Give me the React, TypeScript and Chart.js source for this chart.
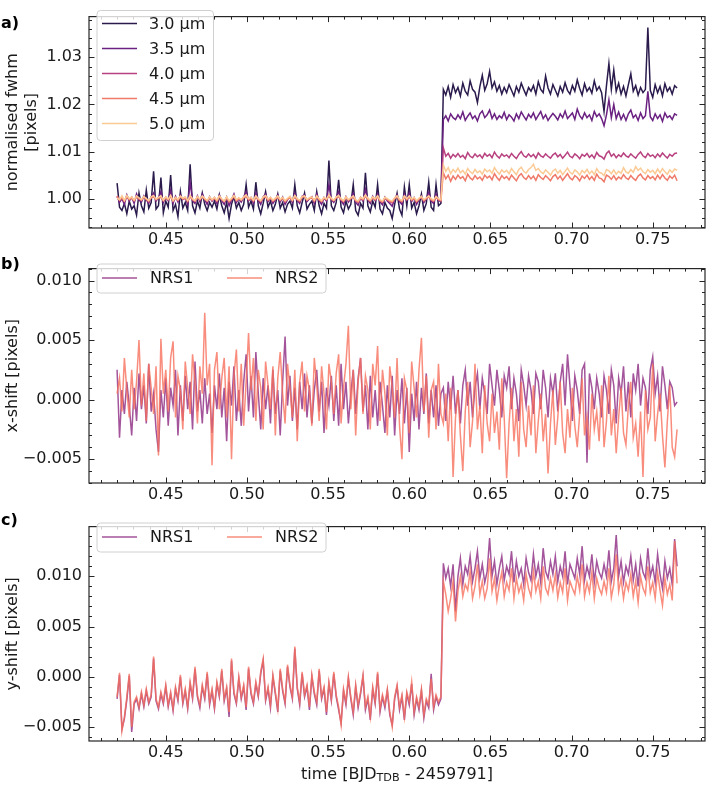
import React, { useEffect, useRef } from 'react';
import { Chart, registerables } from 'chart.js';
Chart.register(...registerables);

const FONT = "'DejaVu Sans', 'Noto Sans', sans-serif";
const FS = 16;

// time [BJD_TDB - 2459791]
const times = [
  0.4200, 0.4215, 0.4230, 0.4245, 0.4260, 0.4275, 0.4290, 0.4305, 0.4320, 0.4335,
  0.4350, 0.4365, 0.4380, 0.4395, 0.4410, 0.4425, 0.4440, 0.4455, 0.4470, 0.4485,
  0.4500, 0.4515, 0.4530, 0.4545, 0.4560, 0.4575, 0.4590, 0.4605, 0.4620, 0.4635,
  0.4650, 0.4665, 0.4680, 0.4695, 0.4710, 0.4725, 0.4740, 0.4755, 0.4770, 0.4785,
  0.4800, 0.4815, 0.4830, 0.4845, 0.4860, 0.4875, 0.4890, 0.4905, 0.4920, 0.4935,
  0.4950, 0.4965, 0.4980, 0.4995, 0.5010, 0.5025, 0.5040, 0.5055, 0.5070, 0.5085,
  0.5100, 0.5115, 0.5130, 0.5145, 0.5160, 0.5175, 0.5190, 0.5205, 0.5220, 0.5235,
  0.5250, 0.5265, 0.5280, 0.5295, 0.5310, 0.5325, 0.5340, 0.5355, 0.5370, 0.5385,
  0.5400, 0.5415, 0.5430, 0.5445, 0.5460, 0.5475, 0.5490, 0.5505, 0.5520, 0.5535,
  0.5550, 0.5565, 0.5580, 0.5595, 0.5610, 0.5625, 0.5640, 0.5655, 0.5670, 0.5685,
  0.5700, 0.5715, 0.5730, 0.5745, 0.5760, 0.5775, 0.5790, 0.5805, 0.5820, 0.5835,
  0.5850, 0.5865, 0.5880, 0.5895, 0.5910, 0.5925, 0.5940, 0.5955, 0.5970, 0.5985,
  0.6000, 0.6015, 0.6030, 0.6045, 0.6060, 0.6075, 0.6090, 0.6105, 0.6120, 0.6135,
  0.6150, 0.6165, 0.6180, 0.6195, 0.6210, 0.6225, 0.6240, 0.6255, 0.6270, 0.6285,
  0.6300, 0.6315, 0.6330, 0.6345, 0.6360, 0.6375, 0.6390, 0.6405, 0.6420, 0.6435,
  0.6450, 0.6465, 0.6480, 0.6495, 0.6510, 0.6525, 0.6540, 0.6555, 0.6570, 0.6585,
  0.6600, 0.6615, 0.6630, 0.6645, 0.6660, 0.6675, 0.6690, 0.6705, 0.6720, 0.6735,
  0.6750, 0.6765, 0.6780, 0.6795, 0.6810, 0.6825, 0.6840, 0.6855, 0.6870, 0.6885,
  0.6900, 0.6915, 0.6930, 0.6945, 0.6960, 0.6975, 0.6990, 0.7005, 0.7020, 0.7035,
  0.7050, 0.7065, 0.7080, 0.7095, 0.7110, 0.7125, 0.7140, 0.7155, 0.7170, 0.7185,
  0.7200, 0.7215, 0.7230, 0.7245, 0.7260, 0.7275, 0.7290, 0.7305, 0.7320, 0.7335,
  0.7350, 0.7365, 0.7380, 0.7395, 0.7410, 0.7425, 0.7440, 0.7455, 0.7470, 0.7485,
  0.7500, 0.7515, 0.7530, 0.7545, 0.7560, 0.7575, 0.7590, 0.7605, 0.7620, 0.7635,
  0.7650,
];

// panel a: normalised fwhm [pixels]
const fwhm30 = [
  1.0033, 0.9982, 0.9975, 0.9990, 0.9968, 0.9995, 0.9978, 0.9985, 0.9965, 1.0012,
  0.9985, 0.9972, 1.0018, 0.9980, 0.9992, 1.0058, 0.9978, 0.9985, 1.0045, 0.9970,
  0.9995, 0.9982, 1.0050, 0.9975, 0.9988, 0.9962, 1.0015, 0.9980, 0.9992, 0.9975,
  1.0073, 0.9985, 0.9970, 0.9995, 0.9980, 1.0012, 0.9988, 0.9975, 0.9992, 0.9982,
  0.9995, 0.9978, 1.0008, 0.9985, 0.9970, 0.9992, 0.9958, 0.9988, 1.0005, 0.9980,
  0.9992, 0.9975, 0.9988, 1.0030, 0.9982, 0.9995, 0.9978, 1.0035, 0.9985, 0.9968,
  0.9990, 1.0015, 0.9982, 0.9995, 0.9975, 0.9988, 1.0010, 0.9980, 0.9992, 0.9972,
  0.9988, 0.9995, 0.9980, 1.0030, 0.9985, 0.9970, 0.9992, 1.0012, 0.9978, 0.9988,
  0.9995, 0.9975, 1.0015, 0.9985, 0.9968, 0.9990, 0.9980, 1.0081, 0.9985, 0.9975,
  0.9992, 1.0040, 0.9982, 0.9970, 0.9995, 0.9978, 0.9988, 1.0030, 0.9975, 0.9965,
  0.9990, 0.9980, 1.0055, 0.9985, 0.9972, 0.9995, 0.9982, 1.0030, 0.9978, 0.9968,
  0.9992, 0.9980, 0.9975, 0.9958, 0.9988, 1.0012, 0.9978, 0.9965, 1.0025, 0.9985,
  1.0030, 0.9980, 0.9992, 0.9968, 0.9985, 1.0010, 0.9975, 0.9990, 1.0035, 0.9982,
  0.9975, 1.0030, 0.9985, 0.9990, 1.0232, 1.0220, 1.0238, 1.0215, 1.0242, 1.0225,
  1.0236, 1.0218, 1.0245, 1.0228, 1.0220, 1.0250, 1.0232, 1.0226, 1.0204, 1.0238,
  1.0262, 1.0230, 1.0244, 1.0270, 1.0235, 1.0248, 1.0228, 1.0240, 1.0222, 1.0236,
  1.0225, 1.0242, 1.0230, 1.0218, 1.0238, 1.0226, 1.0245, 1.0232, 1.0220, 1.0236,
  1.0228, 1.0240, 1.0222, 1.0248, 1.0232, 1.0225, 1.0260, 1.0235, 1.0222, 1.0242,
  1.0230, 1.0218, 1.0238, 1.0226, 1.0246, 1.0230, 1.0222, 1.0240, 1.0228, 1.0252,
  1.0234, 1.0220, 1.0244, 1.0228, 1.0236, 1.0224, 1.0250, 1.0230, 1.0238, 1.0225,
  1.0185, 1.0240, 1.0287, 1.0232, 1.0273, 1.0228, 1.0245, 1.0222, 1.0238, 1.0218,
  1.0242, 1.0265, 1.0228, 1.0240, 1.0220, 1.0236, 1.0225, 1.0232, 1.0363, 1.0230,
  1.0215, 1.0242, 1.0225, 1.0238, 1.0218, 1.0244, 1.0228, 1.0236, 1.0222, 1.0240,
  1.0235,
];
const fwhm35 = [
  1.0005, 0.9992, 1.0000, 0.9988, 1.0008, 0.9995, 1.0003, 0.9990, 1.0010, 0.9997,
  0.9993, 1.0006, 0.9998, 0.9990, 1.0004, 1.0012, 0.9995, 1.0002, 1.0015, 0.9992,
  1.0003, 0.9996, 1.0018, 0.9990, 1.0005, 0.9993, 1.0008, 0.9998, 1.0002, 0.9988,
  1.0035, 0.9996, 0.9990, 1.0006, 0.9994, 1.0010, 0.9998, 0.9988, 1.0004, 0.9995,
  1.0002, 0.9990, 1.0008, 0.9996, 0.9988, 1.0003, 0.9985, 0.9997, 1.0010, 0.9992,
  1.0000, 0.9993, 1.0004, 1.0015, 0.9996, 1.0002, 0.9990, 1.0012, 0.9997, 0.9988,
  1.0004, 1.0010, 0.9994, 1.0002, 0.9990, 0.9998, 1.0008, 0.9993, 1.0003, 0.9988,
  0.9998, 1.0004, 0.9992, 1.0012, 0.9997, 0.9990, 1.0005, 1.0008, 0.9994, 1.0000,
  1.0004, 0.9990, 1.0010, 0.9996, 0.9988, 1.0002, 0.9995, 1.0030, 0.9998, 0.9992,
  1.0003, 1.0015, 0.9996, 0.9988, 1.0004, 0.9993, 1.0000, 1.0012, 0.9992, 0.9986,
  1.0002, 0.9995, 1.0020, 0.9998, 0.9990, 1.0005, 0.9996, 1.0010, 0.9993, 0.9987,
  1.0003, 0.9995, 0.9990, 0.9984, 1.0000, 1.0008, 0.9994, 0.9988, 1.0010, 0.9997,
  1.0012, 0.9994, 1.0002, 0.9988, 0.9998, 1.0006, 0.9992, 1.0000, 1.0014, 0.9995,
  0.9990, 1.0010, 0.9996, 0.9994, 1.0168, 1.0176, 1.0165, 1.0180, 1.0172, 1.0168,
  1.0178, 1.0170, 1.0184, 1.0166, 1.0175, 1.0182, 1.0170, 1.0176, 1.0165, 1.0180,
  1.0186, 1.0172, 1.0178, 1.0188, 1.0170, 1.0180, 1.0168, 1.0176, 1.0171, 1.0183,
  1.0168, 1.0178, 1.0173, 1.0165, 1.0180, 1.0170, 1.0184, 1.0175, 1.0167, 1.0179,
  1.0172, 1.0182, 1.0168, 1.0177, 1.0185, 1.0170, 1.0178, 1.0166, 1.0174, 1.0181,
  1.0175, 1.0167, 1.0180, 1.0172, 1.0186, 1.0170, 1.0176, 1.0182, 1.0168, 1.0190,
  1.0176, 1.0169, 1.0182, 1.0172, 1.0178, 1.0166, 1.0185, 1.0174, 1.0180, 1.0170,
  1.0155, 1.0178, 1.0210, 1.0172, 1.0200, 1.0170, 1.0184, 1.0168, 1.0179, 1.0166,
  1.0180, 1.0188, 1.0172, 1.0178, 1.0166, 1.0182, 1.0170, 1.0176, 1.0228, 1.0174,
  1.0166, 1.0180, 1.0170, 1.0178, 1.0164, 1.0182, 1.0172, 1.0176, 1.0168, 1.0180,
  1.0177,
];
const fwhm40 = [
  1.0004, 0.9996, 1.0001, 0.9994, 1.0006, 0.9998, 1.0003, 0.9995, 1.0005, 0.9999,
  0.9996, 1.0004, 0.9998, 0.9993, 1.0003, 1.0006, 0.9997, 1.0002, 1.0005, 0.9995,
  1.0002, 0.9997, 1.0007, 0.9994, 1.0003, 0.9996, 1.0005, 0.9999, 1.0001, 0.9993,
  1.0006, 0.9998, 0.9994, 1.0004, 0.9997, 1.0005, 0.9999, 0.9994, 1.0003, 0.9996,
  1.0001, 0.9994, 1.0005, 0.9998, 0.9993, 1.0002, 0.9992, 0.9998, 1.0006, 0.9995,
  1.0000, 0.9996, 1.0003, 1.0007, 0.9997, 1.0001, 0.9994, 1.0005, 0.9998, 0.9993,
  1.0003, 1.0005, 0.9996, 1.0001, 0.9994, 0.9999, 1.0005, 0.9996, 1.0002, 0.9993,
  0.9999, 1.0003, 0.9995, 1.0006, 0.9998, 0.9994, 1.0004, 1.0005, 0.9996, 1.0000,
  1.0003, 0.9994, 1.0006, 0.9997, 0.9993, 1.0002, 0.9997, 1.0008, 0.9999, 0.9995,
  1.0002, 1.0006, 0.9997, 0.9993, 1.0003, 0.9996, 1.0000, 1.0005, 0.9995, 0.9992,
  1.0001, 0.9997, 1.0007, 0.9999, 0.9994, 1.0003, 0.9997, 1.0005, 0.9995, 0.9992,
  1.0002, 0.9997, 0.9994, 0.9991, 1.0000, 1.0005, 0.9996, 0.9993, 1.0005, 0.9998,
  1.0005, 0.9996, 1.0001, 0.9993, 0.9999, 1.0004, 0.9995, 1.0000, 1.0006, 0.9997,
  0.9994, 1.0004, 0.9998, 0.9996, 1.0108, 1.0090, 1.0096, 1.0086, 1.0094, 1.0089,
  1.0096, 1.0088, 1.0092, 1.0085, 1.0098, 1.0090, 1.0087, 1.0095, 1.0089, 1.0093,
  1.0086, 1.0096, 1.0090, 1.0094, 1.0087, 1.0099, 1.0091, 1.0086, 1.0095, 1.0090,
  1.0093, 1.0087, 1.0096, 1.0090, 1.0085, 1.0094, 1.0100, 1.0091, 1.0088, 1.0095,
  1.0089, 1.0094, 1.0086, 1.0097, 1.0091, 1.0088, 1.0095, 1.0090, 1.0086, 1.0093,
  1.0097, 1.0089, 1.0094, 1.0086, 1.0092, 1.0099, 1.0090, 1.0087, 1.0095, 1.0091,
  1.0085, 1.0094, 1.0090, 1.0096, 1.0088, 1.0093, 1.0086, 1.0098, 1.0091, 1.0089,
  1.0084, 1.0096, 1.0101, 1.0090, 1.0095, 1.0087, 1.0093, 1.0089, 1.0097, 1.0091,
  1.0088, 1.0095, 1.0090, 1.0086, 1.0094, 1.0099, 1.0091, 1.0087, 1.0096, 1.0090,
  1.0093, 1.0087, 1.0095, 1.0089, 1.0097, 1.0091, 1.0086, 1.0094, 1.0090, 1.0096,
  1.0097,
];
const fwhm45 = [
  1.0006, 0.9997, 1.0002, 0.9995, 1.0004, 0.9998, 1.0001, 0.9996, 1.0004, 1.0000,
  0.9997, 1.0003, 0.9999, 0.9995, 1.0002, 1.0004, 0.9998, 1.0001, 1.0003, 0.9996,
  1.0002, 0.9998, 1.0004, 0.9995, 1.0001, 0.9997, 1.0004, 0.9999, 1.0002, 0.9995,
  1.0004, 0.9998, 0.9995, 1.0003, 0.9998, 1.0004, 0.9999, 0.9995, 1.0002, 0.9997,
  1.0001, 0.9995, 1.0004, 0.9998, 0.9994, 1.0002, 0.9994, 0.9999, 1.0004, 0.9996,
  1.0000, 0.9997, 1.0002, 1.0005, 0.9998, 1.0001, 0.9995, 1.0003, 0.9998, 0.9995,
  1.0002, 1.0004, 0.9997, 1.0001, 0.9995, 0.9999, 1.0003, 0.9997, 1.0001, 0.9994,
  0.9999, 1.0002, 0.9996, 1.0004, 0.9998, 0.9995, 1.0003, 1.0004, 0.9997, 1.0000,
  1.0002, 0.9995, 1.0004, 0.9998, 0.9994, 1.0001, 0.9998, 1.0005, 0.9999, 0.9996,
  1.0002, 1.0004, 0.9998, 0.9994, 1.0002, 0.9997, 1.0000, 1.0004, 0.9996, 0.9993,
  1.0001, 0.9998, 1.0005, 0.9999, 0.9995, 1.0002, 0.9998, 1.0004, 0.9996, 0.9993,
  1.0001, 0.9998, 0.9995, 0.9993, 1.0000, 1.0004, 0.9997, 0.9994, 1.0004, 0.9998,
  1.0004, 0.9997, 1.0001, 0.9994, 0.9999, 1.0003, 0.9996, 1.0000, 1.0004, 0.9998,
  0.9995, 1.0003, 0.9998, 0.9996, 1.0055, 1.0042, 1.0050, 1.0037, 1.0048, 1.0041,
  1.0050, 1.0043, 1.0047, 1.0038, 1.0052, 1.0044, 1.0040, 1.0049, 1.0042, 1.0046,
  1.0039, 1.0050, 1.0044, 1.0048, 1.0040, 1.0053, 1.0045, 1.0039, 1.0049, 1.0043,
  1.0047, 1.0040, 1.0050, 1.0044, 1.0038, 1.0048, 1.0053, 1.0045, 1.0041, 1.0049,
  1.0042, 1.0048, 1.0039, 1.0051, 1.0045, 1.0041, 1.0049, 1.0044, 1.0038, 1.0047,
  1.0051, 1.0042, 1.0048, 1.0039, 1.0046, 1.0053, 1.0044, 1.0040, 1.0049, 1.0045,
  1.0038, 1.0048, 1.0043, 1.0050, 1.0041, 1.0047, 1.0039, 1.0052, 1.0044, 1.0042,
  1.0036, 1.0050, 1.0047, 1.0041, 1.0049, 1.0040, 1.0046, 1.0042, 1.0051, 1.0044,
  1.0041, 1.0049, 1.0043, 1.0039, 1.0048, 1.0052, 1.0044, 1.0040, 1.0049, 1.0043,
  1.0047, 1.0040, 1.0050, 1.0042, 1.0051, 1.0044, 1.0039, 1.0048, 1.0043, 1.0050,
  1.0038,
];
const fwhm50 = [
  1.0001, 0.9998, 1.0006, 0.9996, 1.0007, 1.0000, 1.0004, 0.9997, 1.0006, 1.0002,
  0.9998, 1.0005, 1.0000, 0.9996, 1.0004, 1.0007, 0.9999, 1.0003, 1.0006, 0.9997,
  1.0004, 0.9999, 1.0007, 0.9996, 1.0003, 0.9998, 1.0006, 1.0001, 1.0004, 0.9996,
  1.0007, 1.0000, 0.9996, 1.0005, 0.9999, 1.0006, 1.0001, 0.9996, 1.0004, 0.9998,
  1.0003, 0.9997, 1.0006, 1.0000, 0.9995, 1.0004, 0.9996, 1.0001, 1.0007, 0.9998,
  1.0002, 0.9998, 1.0004, 1.0008, 1.0000, 1.0003, 0.9997, 1.0006, 1.0000, 0.9996,
  1.0004, 1.0007, 0.9999, 1.0003, 0.9997, 1.0001, 1.0006, 0.9998, 1.0003, 0.9996,
  1.0001, 1.0005, 0.9997, 1.0007, 1.0000, 0.9997, 1.0005, 1.0006, 0.9998, 1.0002,
  1.0004, 0.9997, 1.0006, 1.0000, 0.9996, 1.0003, 0.9999, 1.0008, 1.0001, 0.9997,
  1.0004, 1.0007, 1.0000, 0.9996, 1.0004, 0.9998, 1.0002, 1.0006, 0.9998, 0.9995,
  1.0003, 1.0000, 1.0008, 1.0001, 0.9997, 1.0004, 1.0000, 1.0006, 0.9998, 0.9995,
  1.0003, 1.0000, 0.9997, 0.9995, 1.0002, 1.0006, 0.9999, 0.9996, 1.0006, 1.0000,
  1.0006, 0.9999, 1.0003, 0.9996, 1.0001, 1.0005, 0.9998, 1.0002, 1.0006, 1.0000,
  0.9997, 1.0005, 1.0000, 0.9998, 1.0072, 1.0058, 1.0066, 1.0053, 1.0062, 1.0056,
  1.0065, 1.0055, 1.0060, 1.0052, 1.0064, 1.0057, 1.0053, 1.0062, 1.0055, 1.0059,
  1.0052, 1.0063, 1.0057, 1.0061, 1.0054, 1.0066, 1.0058, 1.0052, 1.0061, 1.0056,
  1.0060, 1.0053, 1.0064, 1.0057, 1.0051, 1.0062, 1.0067, 1.0058, 1.0054, 1.0062,
  1.0066, 1.0073, 1.0060, 1.0064, 1.0057, 1.0053, 1.0061, 1.0056, 1.0050, 1.0059,
  1.0063, 1.0054, 1.0060, 1.0051, 1.0058, 1.0065, 1.0056, 1.0052, 1.0061, 1.0057,
  1.0050, 1.0060, 1.0055, 1.0062, 1.0053, 1.0059, 1.0051, 1.0064, 1.0056, 1.0054,
  1.0049, 1.0062, 1.0059, 1.0053, 1.0061, 1.0052, 1.0058, 1.0054, 1.0066, 1.0057,
  1.0054, 1.0062, 1.0056, 1.0068, 1.0060, 1.0065, 1.0057, 1.0053, 1.0062, 1.0056,
  1.0060, 1.0053, 1.0063, 1.0055, 1.0064, 1.0057, 1.0052, 1.0061, 1.0056, 1.0063,
  1.0060,
];

// panel b: x-shift [pixels]
const xshiftNRS1 = [
  0.0025, -0.0032, 0.0008, -0.0012, 0.0015, -0.0005, -0.0030, 0.0010, -0.0018, 0.0022,
  -0.0008, 0.0012, -0.0020, 0.0030, -0.0010, 0.0005, -0.0025, -0.0044, 0.0008, -0.0015,
  0.0018, -0.0022, 0.0010, -0.0005, 0.0025, -0.0030, 0.0012, -0.0018, 0.0020, -0.0008,
  0.0015, -0.0025, 0.0032, -0.0010, 0.0008, -0.0020, 0.0018, -0.0012, 0.0005, -0.0028,
  0.0012, -0.0008, 0.0022, -0.0015, 0.0010, -0.0035, 0.0015, -0.0005, 0.0028, -0.0018,
  0.0008, -0.0022, 0.0015, 0.0038, -0.0010, 0.0020, -0.0015, 0.0040, 0.0005, -0.0025,
  0.0018, -0.0008, 0.0012, -0.0020, 0.0025, -0.0012, 0.0008, -0.0030, 0.0015, 0.0053,
  -0.0005, 0.0020, -0.0018, 0.0010, -0.0025, 0.0015, -0.0008, 0.0022, -0.0015, 0.0012,
  -0.0020, 0.0008, 0.0025, -0.0010, 0.0015, -0.0028, 0.0010, -0.0005, 0.0020, -0.0018,
  0.0012, -0.0022, 0.0030, -0.0008, 0.0015, -0.0020, 0.0005, 0.0025, -0.0012, 0.0018,
  0.0035, -0.0010, 0.0012, -0.0025, 0.0020, -0.0015, 0.0008, -0.0022, 0.0015, -0.0005,
  -0.0028, 0.0012, -0.0015, 0.0020, -0.0030, 0.0008, -0.0012, 0.0018, -0.0020, 0.0010,
  -0.0044, 0.0005, -0.0018, 0.0015, -0.0025, 0.0010, -0.0012, 0.0022, -0.0020, 0.0008,
  -0.0015, 0.0012, -0.0022, 0.0005, 0.0010, -0.0018, 0.0015, -0.0008, 0.0020, -0.0012,
  0.0008, -0.0020, 0.0012, 0.0025, -0.0005, 0.0015, -0.0015, 0.0010, 0.0022, -0.0008,
  0.0018, 0.0005, -0.0012, 0.0030, 0.0012, -0.0005, 0.0025, 0.0008, -0.0015, 0.0020,
  0.0010, 0.0028, -0.0008, 0.0018, 0.0005, -0.0018, 0.0025, 0.0012, -0.0005, 0.0020,
  0.0008, -0.0012, 0.0022, 0.0015, -0.0008, 0.0025, 0.0010, -0.0015, 0.0018, 0.0005,
  0.0022, -0.0010, 0.0015, 0.0030, -0.0005, 0.0038, 0.0012, -0.0018, 0.0020, 0.0008,
  -0.0012, 0.0025, 0.0030, -0.0053, 0.0022, 0.0010, -0.0008, 0.0018, 0.0005, -0.0015,
  0.0020, 0.0008, -0.0012, 0.0025, 0.0012, -0.0020, 0.0018, 0.0005, 0.0028, -0.0010,
  0.0015, -0.0015, 0.0022, 0.0008, 0.0030, -0.0005, 0.0018, 0.0010, -0.0012, 0.0025,
  0.0036, 0.0005, 0.0020, -0.0010, 0.0028, 0.0012, -0.0008, 0.0015, 0.0010, -0.0005,
  -0.0002,
];
const xshiftNRS2 = [
  0.0005, 0.0018, -0.0010, 0.0035, 0.0008, -0.0015, 0.0025, -0.0008, 0.0015, 0.0050,
  -0.0005, 0.0022, -0.0018, 0.0030, 0.0010, -0.0012, 0.0028, -0.0047, 0.0051, 0.0005,
  0.0025, -0.0010, 0.0035, 0.0049, -0.0015, 0.0020, 0.0008, -0.0025, 0.0032, 0.0010,
  -0.0012, 0.0038, 0.0015, -0.0020, 0.0028, 0.0005, 0.0073, 0.0012, 0.0030, -0.0055,
  0.0025, 0.0040, -0.0008, 0.0018, 0.0035, -0.0015, 0.0028, -0.0050, 0.0020, 0.0042,
  -0.0010, 0.0030, -0.0022, 0.0015, 0.0056, 0.0008, 0.0035, -0.0018, 0.0025, 0.0010,
  -0.0025, 0.0032, 0.0012, -0.0008, 0.0028, -0.0030, 0.0018, 0.0040, 0.0005, -0.0020,
  0.0030, 0.0010, -0.0015, 0.0025, -0.0035, 0.0015, 0.0032, -0.0010, 0.0020, 0.0008,
  -0.0022, 0.0035, 0.0012, -0.0018, 0.0028, 0.0005, -0.0025, 0.0030, 0.0015, -0.0012,
  0.0022, 0.0038, -0.0020, 0.0010, 0.0030, 0.0062, -0.0008, 0.0025, -0.0030, 0.0015,
  0.0035, -0.0012, 0.0020, 0.0008, -0.0025, 0.0030, 0.0012, 0.0045, -0.0018, 0.0025,
  0.0005, -0.0030, 0.0028, 0.0010, -0.0015, 0.0035, -0.0022, -0.0050, 0.0018, 0.0008,
  -0.0028, 0.0032, 0.0010, -0.0015, 0.0025, 0.0052, -0.0010, 0.0020, -0.0032, 0.0008,
  0.0015, -0.0025, 0.0030, -0.0012, -0.0020, 0.0005, -0.0035, 0.0010, -0.0065, -0.0015,
  0.0008, -0.0030, -0.0060, -0.0010, 0.0015, -0.0040, -0.0018, 0.0030, -0.0025, -0.0005,
  -0.0045, 0.0012, -0.0020, -0.0035, 0.0005, -0.0028, -0.0010, -0.0042, 0.0018, -0.0015,
  -0.0066, -0.0020, 0.0010, -0.0035, -0.0008, -0.0048, 0.0015, -0.0025, -0.0040, -0.0005,
  -0.0030, 0.0012, -0.0045, -0.0018, 0.0005, -0.0035, -0.0012, -0.0062, -0.0020, 0.0008,
  -0.0038, -0.0015, 0.0015, -0.0028, -0.0045, -0.0008, -0.0032, 0.0010, -0.0022, -0.0040,
  -0.0012, 0.0018, -0.0030, -0.0015, -0.0042, 0.0005, -0.0025, -0.0010, -0.0035, 0.0012,
  -0.0040, -0.0018, 0.0020, -0.0030, -0.0008, -0.0045, -0.0015, 0.0010, -0.0028, -0.0038,
  -0.0005, 0.0015, -0.0032, -0.0020, -0.0048, -0.0010, -0.0065, 0.0008, -0.0025, -0.0015,
  0.0030, -0.0035, -0.0012, 0.0005, -0.0030, -0.0057, -0.0018, 0.0012, -0.0040, -0.0048,
  -0.0025,
];

// panel c: y-shift [pixels]
const yshiftNRS1 = [
  -0.0022, 0.0002, -0.0052, -0.0042, -0.0023, 0.0001, -0.0055, -0.0027, -0.0022, -0.0032,
  -0.0017, -0.0030, -0.0014, -0.0027, -0.0020, 0.0018, -0.0024, -0.0032, -0.0017, -0.0027,
  -0.0010, -0.0030, -0.0017, -0.0034, -0.0012, -0.0024, 0.0000, -0.0027, -0.0014, -0.0032,
  -0.0007, -0.0022, 0.0008, -0.0020, -0.0031, -0.0010, -0.0022, 0.0003, -0.0028, -0.0014,
  -0.0032, -0.0007, -0.0020, 0.0006, -0.0024, -0.0012, -0.0040, 0.0016, -0.0017, -0.0027,
  -0.0002, -0.0022, -0.0010, -0.0033, 0.0008, -0.0017, -0.0027, -0.0007, -0.0020, 0.0003,
  0.0016, -0.0024, -0.0012, -0.0031, 0.0000, -0.0017, -0.0035, 0.0006, -0.0014, -0.0027,
  0.0010, -0.0010, -0.0022, 0.0028, -0.0012, -0.0028, 0.0003, -0.0020, -0.0010, -0.0033,
  0.0000, -0.0017, -0.0028, 0.0006, -0.0022, -0.0012, -0.0038, -0.0007, -0.0024, 0.0003,
  -0.0020, -0.0033, -0.0046, -0.0014, -0.0028, -0.0002, -0.0022, -0.0038, -0.0010, -0.0031,
  -0.0017, 0.0000, -0.0033, -0.0022, -0.0043, -0.0012, -0.0027, 0.0003, -0.0035, -0.0020,
  -0.0031, -0.0014, -0.0038, -0.0048, -0.0022, -0.0010, -0.0033, -0.0020, -0.0043, -0.0017,
  -0.0028, -0.0007, -0.0038, -0.0022, -0.0033, -0.0014, -0.0041, -0.0024, -0.0031, 0.0003,
  -0.0033, -0.0020, -0.0028, -0.0022, 0.0113, 0.0098, 0.0108, 0.0090, 0.0112, 0.0065,
  0.0100, 0.0118, 0.0092, 0.0110, 0.0102, 0.0120, 0.0095, 0.0108, 0.0125, 0.0098,
  0.0112, 0.0094, 0.0105, 0.0138, 0.0100, 0.0115, 0.0092, 0.0108, 0.0120, 0.0096,
  0.0110, 0.0102, 0.0125, 0.0094, 0.0115, 0.0100, 0.0108, 0.0092, 0.0118, 0.0104,
  0.0096, 0.0122, 0.0100, 0.0112, 0.0094, 0.0128, 0.0105, 0.0098, 0.0115, 0.0102,
  0.0120, 0.0095, 0.0110, 0.0100, 0.0125, 0.0092, 0.0112, 0.0105, 0.0098, 0.0118,
  0.0102, 0.0130, 0.0096, 0.0110, 0.0100, 0.0122, 0.0094, 0.0115, 0.0104, 0.0098,
  0.0112, 0.0100, 0.0126, 0.0095, 0.0108, 0.0141, 0.0100, 0.0115, 0.0094, 0.0110,
  0.0102, 0.0120, 0.0096, 0.0112, 0.0090, 0.0118, 0.0104, 0.0098, 0.0128, 0.0100,
  0.0110, 0.0094, 0.0122, 0.0102, 0.0088, 0.0115, 0.0098, 0.0108, 0.0092, 0.0137,
  0.0110,
];
const yshiftNRS2 = [
  -0.0020, 0.0004, -0.0054, -0.0040, -0.0020, 0.0003, -0.0050, -0.0025, -0.0020, -0.0030,
  -0.0015, -0.0028, -0.0012, -0.0025, -0.0018, 0.0020, -0.0022, -0.0030, -0.0015, -0.0025,
  -0.0008, -0.0028, -0.0015, -0.0032, -0.0010, -0.0022, 0.0002, -0.0025, -0.0012, -0.0030,
  -0.0005, -0.0020, 0.0010, -0.0018, -0.0028, -0.0008, -0.0020, 0.0005, -0.0025, -0.0012,
  -0.0030, -0.0005, -0.0018, 0.0008, -0.0022, -0.0010, -0.0035, 0.0018, -0.0015, -0.0025,
  0.0000, -0.0020, -0.0008, -0.0030, 0.0010, -0.0015, -0.0025, -0.0005, -0.0018, 0.0005,
  0.0018, -0.0022, -0.0010, -0.0028, 0.0002, -0.0015, -0.0032, 0.0008, -0.0012, -0.0025,
  0.0012, -0.0008, -0.0020, 0.0030, -0.0010, -0.0025, 0.0005, -0.0018, -0.0008, -0.0030,
  0.0002, -0.0015, -0.0025, 0.0008, -0.0020, -0.0010, -0.0035, -0.0005, -0.0022, 0.0005,
  -0.0018, -0.0030, -0.0048, -0.0012, -0.0025, 0.0000, -0.0020, -0.0035, -0.0008, -0.0028,
  -0.0015, 0.0002, -0.0030, -0.0020, -0.0040, -0.0010, -0.0025, 0.0005, -0.0032, -0.0018,
  -0.0028, -0.0012, -0.0035, -0.0050, -0.0020, -0.0008, -0.0030, -0.0018, -0.0040, -0.0015,
  -0.0025, -0.0005, -0.0035, -0.0020, -0.0030, -0.0012, -0.0038, -0.0022, -0.0028, -0.0002,
  -0.0030, -0.0018, -0.0025, -0.0020, 0.0095, 0.0082, 0.0065, 0.0078, 0.0095, 0.0055,
  0.0085, 0.0100, 0.0080, 0.0092, 0.0086, 0.0105, 0.0078, 0.0090, 0.0112, 0.0082,
  0.0095, 0.0078, 0.0088, 0.0118, 0.0085, 0.0098, 0.0076, 0.0092, 0.0104, 0.0080,
  0.0094, 0.0086, 0.0108, 0.0078, 0.0098, 0.0084, 0.0092, 0.0076, 0.0102, 0.0088,
  0.0080, 0.0105, 0.0085, 0.0095, 0.0078, 0.0110, 0.0088, 0.0082, 0.0098, 0.0086,
  0.0102, 0.0079, 0.0094, 0.0084, 0.0108, 0.0076, 0.0095, 0.0088, 0.0082, 0.0100,
  0.0086, 0.0112, 0.0080, 0.0094, 0.0084, 0.0104, 0.0078, 0.0098, 0.0088, 0.0082,
  0.0095, 0.0084, 0.0108, 0.0079, 0.0092, 0.0122, 0.0085, 0.0098, 0.0078, 0.0094,
  0.0086, 0.0102, 0.0080, 0.0095, 0.0074, 0.0100, 0.0088, 0.0082, 0.0110, 0.0084,
  0.0094, 0.0078, 0.0104, 0.0086, 0.0071, 0.0098, 0.0082, 0.0092, 0.0076, 0.0135,
  0.0093,
];

const wavelengthLabels = ['3.0 µm', '3.5 µm', '4.0 µm', '4.5 µm', '5.0 µm'];
const wavelengthColors = ['#2a1b4c', '#6a2181', '#b8417f', '#ef7a6a', '#fcca95'];
const detectorLabels = ['NRS1', 'NRS2'];
const detectorColors = ['rgba(140,41,129,0.8)', 'rgba(247,112,92,0.8)'];

const X_MIN = 0.4027;
const X_MAX = 0.7822;

type LegendCfg = {
  box: [number, number, number, number];
  items: { label: string; color: string; lx: number; ly: number; tx: number }[];
};
type DecorCfg = {
  xMinor: number; xMajor: number; yMinor: number; yMajor: number;
  panel: string; panelY: number;
  yTitle: { lines: string[]; xs: number[] };
  xTitleY?: number;
  legend: LegendCfg;
};

function roundRect(ctx: CanvasRenderingContext2D, x: number, y: number, w: number, h: number, r: number) {
  ctx.beginPath();
  ctx.moveTo(x + r, y);
  ctx.lineTo(x + w - r, y);
  ctx.arcTo(x + w, y, x + w, y + r, r);
  ctx.lineTo(x + w, y + h - r);
  ctx.arcTo(x + w, y + h, x + w - r, y + h, r);
  ctx.lineTo(x + r, y + h);
  ctx.arcTo(x, y + h, x, y + h - r, r);
  ctx.lineTo(x, y + r);
  ctx.arcTo(x, y, x + r, y, r);
  ctx.closePath();
}

const decorPlugin = {
  id: 'decor',
  afterDraw(chart: any, _args: any, opts: DecorCfg) {
    const { ctx, chartArea: a, scales } = chart;
    const xs = scales.x, ys = scales.y;
    ctx.save();
    ctx.strokeStyle = '#262626';
    ctx.lineWidth = 1;
    const xTicks = (step: number, len: number) => {
      const k0 = Math.ceil(xs.min / step - 1e-6);
      for (let k = k0; k * step <= xs.max + 1e-9; k++) {
        const p = Math.round(xs.getPixelForValue(k * step)) + 0.5;
        ctx.beginPath();
        ctx.moveTo(p, a.bottom); ctx.lineTo(p, a.bottom - len);
        ctx.moveTo(p, a.top); ctx.lineTo(p, a.top + len);
        ctx.stroke();
      }
    };
    const yTicks = (step: number, len: number) => {
      const k0 = Math.ceil(ys.min / step - 1e-6);
      for (let k = k0; k * step <= ys.max + 1e-12; k++) {
        const p = Math.round(ys.getPixelForValue(k * step)) + 0.5;
        ctx.beginPath();
        ctx.moveTo(a.left, p); ctx.lineTo(a.left + len, p);
        ctx.moveTo(a.right, p); ctx.lineTo(a.right - len, p);
        ctx.stroke();
      }
    };
    xTicks(opts.xMinor, 3);
    xTicks(opts.xMajor, 5.5);
    yTicks(opts.yMinor, 3);
    yTicks(opts.yMajor, 5.5);
    ctx.lineWidth = 1.2;
    ctx.strokeRect(a.left, a.top, a.right - a.left, a.bottom - a.top);

    // legend
    const L = opts.legend;
    roundRect(ctx, L.box[0] + 0.5, L.box[1] + 0.5, L.box[2], L.box[3], 3.5);
    ctx.fillStyle = 'rgba(255,255,255,0.8)';
    ctx.fill();
    ctx.strokeStyle = '#d0d0d0';
    ctx.lineWidth = 1;
    ctx.stroke();
    ctx.font = `${FS}px ${FONT}`;
    ctx.textBaseline = 'middle';
    ctx.textAlign = 'left';
    for (const it of L.items) {
      ctx.strokeStyle = it.color;
      ctx.lineWidth = 1.6;
      ctx.beginPath();
      ctx.moveTo(it.lx, it.ly);
      ctx.lineTo(it.lx + 35, it.ly);
      ctx.stroke();
      ctx.fillStyle = '#1a1a1a';
      ctx.fillText(it.label, it.tx, it.ly + 1);
    }

    // panel letter
    ctx.fillStyle = '#000';
    ctx.font = `bold ${FS}px ${FONT}`;
    ctx.fillText(opts.panel, 1, opts.panelY);

    // y title
    ctx.font = `${FS}px ${FONT}`;
    ctx.fillStyle = '#1a1a1a';
    const cy = (a.top + a.bottom) / 2;
    opts.yTitle.lines.forEach((line, i) => {
      ctx.save();
      ctx.translate(opts.yTitle.xs[i], cy);
      ctx.rotate(-Math.PI / 2);
      ctx.textAlign = 'center';
      ctx.textBaseline = 'middle';
      ctx.fillText(line, 0, 0);
      ctx.restore();
    });

    // x title with subscript
    if (opts.xTitleY !== undefined) {
      const big = `${FS}px ${FONT}`;
      const small = `${FS * 0.7}px ${FONT}`;
      const p1 = 'time [BJD';
      const p2 = 'TDB';
      const p3 = ' - 2459791]';
      ctx.font = big;
      const w1 = ctx.measureText(p1).width;
      const w3 = ctx.measureText(p3).width;
      ctx.font = small;
      const w2 = ctx.measureText(p2).width;
      const total = w1 + w2 + w3;
      let x = (a.left + a.right) / 2 - total / 2;
      const y = opts.xTitleY;
      ctx.textAlign = 'left';
      ctx.textBaseline = 'middle';
      ctx.font = big;
      ctx.fillText(p1, x, y);
      x += w1;
      ctx.font = small;
      ctx.fillText(p2, x, y + 3.5);
      x += w2;
      ctx.font = big;
      ctx.fillText(p3, x, y);
    }
    ctx.restore();
  },
};

const fmt = (v: number, d: number) => {
  const s = (Math.abs(v) < 1e-9 ? 0 : v).toFixed(d);
  return s.replace('-', '\u2212');
};

function makeChart(
  canvas: HTMLCanvasElement,
  series: { label: string; color: string; values: number[] }[],
  yMin: number, yMax: number, yStep: number, yDec: number,
  padTop: number, xHeight: number, decor: DecorCfg,
) {
  return new Chart(canvas, {
    type: 'line',
    data: {
      datasets: series.map((s, i) => ({
        label: s.label,
        data: times.map((t, j) => ({ x: t, y: s.values[j] })),
        borderColor: s.color,
        borderWidth: 1.5,
        pointRadius: 0,
        fill: false,
        tension: 0,
        order: series.length - i,
      })),
    },
    options: {
      animation: false,
      responsive: false,
      devicePixelRatio: 1,
      events: [],
      layout: { padding: { top: padTop, right: 2, left: 0, bottom: 0 } },
      plugins: {
        legend: { display: false },
        tooltip: { enabled: false },
        decor: decor as any,
      } as any,
      scales: {
        x: {
          type: 'linear',
          min: X_MIN,
          max: X_MAX,
          grid: { display: false, drawTicks: false },
          border: { display: false },
          ticks: {
            stepSize: 0.05,
            includeBounds: false,
            padding: 2,
            autoSkip: false,
            maxRotation: 0,
            color: '#1a1a1a',
            font: { family: FONT, size: FS },
            callback: (v: any) => fmt(Number(v), 2),
          },
          afterFit: (s: any) => { s.height = xHeight; },
        },
        y: {
          type: 'linear',
          min: yMin,
          max: yMax,
          grid: { display: false, drawTicks: false },
          border: { display: false },
          ticks: {
            stepSize: yStep,
            includeBounds: false,
            padding: 7,
            color: '#1a1a1a',
            font: { family: FONT, size: FS },
            callback: (v: any) => fmt(Number(v), yDec),
          },
          afterFit: (s: any) => { s.width = 89; },
        },
      },
    } as any,
    plugins: [decorPlugin as any],
  });
}

export default function App() {
  const refA = useRef<HTMLCanvasElement>(null);
  const refB = useRef<HTMLCanvasElement>(null);
  const refC = useRef<HTMLCanvasElement>(null);

  useEffect(() => {
    document.body.style.margin = '0';
    const wl = [fwhm30, fwhm35, fwhm40, fwhm45, fwhm50];
    const chartA = makeChart(
      refA.current!,
      wl.map((v, i) => ({ label: wavelengthLabels[i], color: wavelengthColors[i], values: v })),
      0.99378, 1.03864, 0.01, 2, 2, 24,
      {
        xMinor: 0.01, xMajor: 0.05, yMinor: 0.002, yMajor: 0.01,
        panel: 'a)', panelY: 24,
        yTitle: { lines: ['normalised fwhm', '[pixels]'], xs: [13, 31.5] },
        legend: {
          box: [96.5, 10, 116.5, 130],
          items: wavelengthLabels.map((l, i) => ({
            label: l, color: wavelengthColors[i], lx: 102, ly: 23.5 + 25 * i, tx: 149,
          })),
        },
      },
    );
    const det = (a: number[], b: number[]) => [
      { label: detectorLabels[0], color: detectorColors[0], values: a },
      { label: detectorLabels[1], color: detectorColors[1], values: b },
    ];
    const detLegend = (top: number): LegendCfg => ({
      box: [96.5, top, 229, 29],
      items: [
        { label: detectorLabels[0], color: detectorColors[0], lx: 102, ly: top + 14.5, tx: 150 },
        { label: detectorLabels[1], color: detectorColors[1], lx: 227, ly: top + 14.5, tx: 275 },
      ],
    });
    const chartB = makeChart(
      refB.current!, det(xshiftNRS1, xshiftNRS2),
      -0.007, 0.011, 0.005, 3, 5, 27,
      {
        xMinor: 0.01, xMajor: 0.05, yMinor: 0.001, yMajor: 0.005,
        panel: 'b)', panelY: 13,
        yTitle: { lines: ['x-shift [pixels]'], xs: [13] },
        legend: detLegend(11.5),
      },
    );
    const chartC = makeChart(
      refC.current!, det(yshiftNRS1, yshiftNRS2),
      -0.0064, 0.01495, 0.005, 3, 5, 45,
      {
        xMinor: 0.01, xMajor: 0.05, yMinor: 0.001, yMajor: 0.005,
        panel: 'c)', panelY: 11,
        yTitle: { lines: ['y-shift [pixels]'], xs: [13] },
        xTitleY: 265,
        legend: detLegend(12.5),
      },
    );
    return () => {
      chartA.destroy();
      chartB.destroy();
      chartC.destroy();
    };
  }, []);

  return (
    <div style={{ position: 'relative', width: 707, height: 786, background: '#fff' }}>
      <canvas ref={refA} width={707} height={252} style={{ position: 'absolute', left: 0, top: 0 }} />
      <canvas ref={refB} width={707} height={258} style={{ position: 'absolute', left: 0, top: 252 }} />
      <canvas ref={refC} width={707} height={276} style={{ position: 'absolute', left: 0, top: 510 }} />
    </div>
  );
}
